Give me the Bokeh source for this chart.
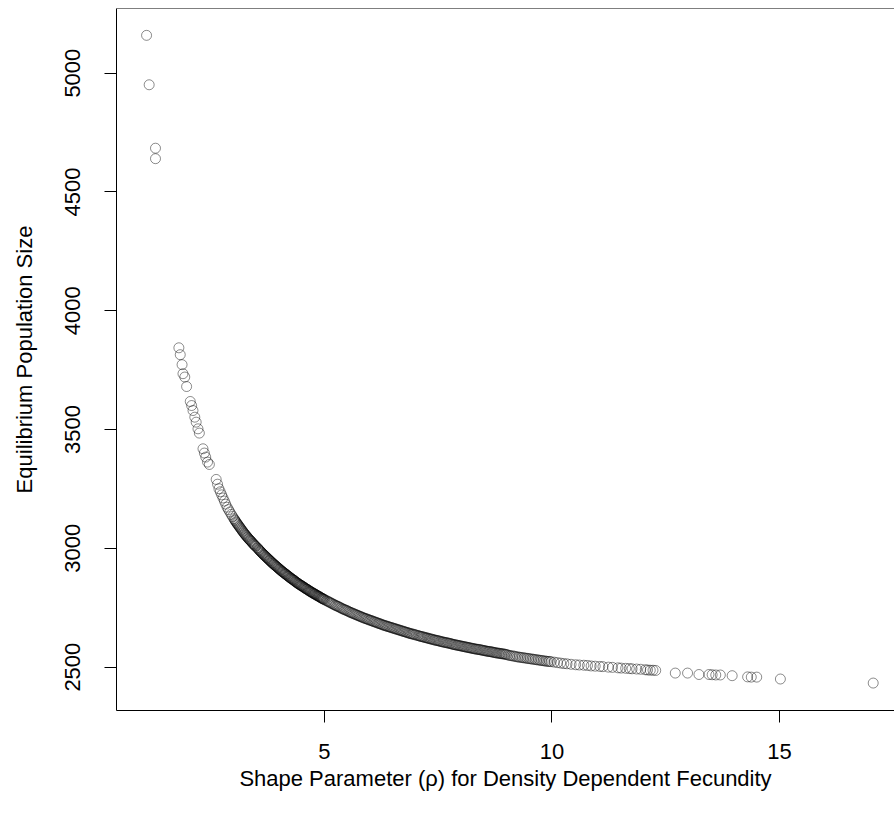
from bokeh.plotting import figure
from bokeh.models import FixedTicker, Range1d, Span, ColumnDataSource
from bokeh.embed import file_html
from bokeh.resources import INLINE

# ---- data ----
# isolated points at small rho
rho_low = [1.09, 1.147, 1.286, 1.286, 1.80, 1.83, 1.87, 1.89, 1.93, 1.97,
           2.05, 2.08, 2.11, 2.15, 2.18, 2.22, 2.25, 2.33, 2.36, 2.39, 2.43, 2.47]
pop_low = [5159, 4951, 4684, 4640, 3844, 3815, 3773, 3735, 3721, 3681,
           3618, 3601, 3580, 3552, 3531, 3503, 3485, 3419, 3401, 3384, 3363, 3353]

# steep part of the dense curve
rho_a = [2.62, 2.65, 2.68, 2.71, 2.74, 2.77, 2.80, 2.83, 2.86, 2.89, 2.92, 2.95, 2.98,
         3.01, 3.04, 3.07, 3.10, 3.13, 3.16, 3.19, 3.22, 3.25, 3.28, 3.31, 3.34, 3.37,
         3.40, 3.43, 3.46, 3.49,
         3.025, 3.055, 3.085, 3.115, 3.145, 3.175, 3.205, 3.235, 3.265, 3.295, 3.325,
         3.355, 3.385, 3.415, 3.445, 3.475]
pop_a = [3290, 3270, 3251, 3238, 3225, 3212, 3199, 3186, 3173, 3163, 3153, 3143, 3134,
         3125, 3116, 3107, 3099, 3091, 3083, 3075, 3067, 3060, 3053, 3046, 3039, 3033,
         3027, 3020, 3014, 3008,
         3120, 3111, 3103, 3095, 3087, 3079, 3071, 3063, 3056, 3049, 3042,
         3036, 3030, 3023, 3017, 3011]

rho_b = [3.52, 3.55, 3.58, 3.61, 3.64, 3.67, 3.70, 3.73, 3.76, 3.79, 3.82, 3.85, 3.88,
         3.91, 3.94, 3.97, 4.00, 4.03, 4.06, 4.09, 4.12, 4.15, 4.18, 4.21, 4.24, 4.27,
         4.30, 4.33, 4.36, 4.39, 4.42, 4.45, 4.48, 4.51, 4.54, 4.57, 4.60, 4.63, 4.66,
         4.69, 4.72, 4.75, 4.78, 4.81, 4.84, 4.87, 4.90, 4.93, 4.96, 4.99,
         3.535, 3.565, 3.595, 3.625, 3.655, 3.685, 3.715, 3.745, 3.775, 3.805, 3.835,
         3.865, 3.895, 3.925, 3.955, 3.985, 4.015, 4.045, 4.075, 4.105, 4.135, 4.165,
         4.195, 4.225, 4.255, 4.285, 4.315, 4.345, 4.375, 4.405, 4.435, 4.465, 4.495,
         4.525, 4.555, 4.585, 4.615, 4.645, 4.675, 4.705, 4.735, 4.765, 4.795, 4.825,
         4.855, 4.885, 4.915, 4.945, 4.975]
pop_b = [3003, 2996, 2990, 2984, 2978, 2972, 2967, 2961, 2956, 2950, 2945, 2939, 2934,
         2929, 2924, 2919, 2914, 2909, 2904, 2900, 2895, 2891, 2886, 2882, 2877, 2873,
         2869, 2865, 2860, 2856, 2852, 2848, 2844, 2841, 2837, 2833, 2829, 2826, 2822,
         2818, 2815, 2811, 2808, 2805, 2801, 2798, 2795, 2791, 2788, 2785,
         3000, 2993, 2987, 2981, 2975, 2970, 2964, 2959, 2953, 2948, 2942,
         2937, 2932, 2927, 2922, 2917, 2912, 2907, 2902, 2898, 2893, 2889,
         2884, 2880, 2875, 2871, 2867, 2863, 2858, 2854, 2850, 2846, 2843,
         2839, 2835, 2831, 2828, 2824, 2820, 2817, 2813, 2810, 2807, 2803,
         2800, 2797, 2793, 2790, 2787]

rho_c = [5.01, 5.04, 5.09, 5.14, 5.19, 5.24, 5.29, 5.34, 5.39, 5.44, 5.49, 5.54, 5.59, 5.64,
         5.69, 5.74, 5.79, 5.84, 5.89, 5.94, 5.99, 6.04, 6.09, 6.14, 6.19, 6.24, 6.29,
         6.34, 6.39, 6.44, 6.49, 6.54, 6.59, 6.64, 6.69, 6.74, 6.79, 6.84, 6.89, 6.94, 6.99,
         5.065, 5.115, 5.165, 5.215, 5.265, 5.315, 5.365, 5.415, 5.465, 5.515, 5.565,
         5.615, 5.665, 5.715, 5.765, 5.815, 5.865, 5.915, 5.965, 6.015, 6.065, 6.115,
         6.165, 6.215, 6.265, 6.315, 6.365, 6.415, 6.465, 6.515, 6.565, 6.615, 6.665,
         6.715, 6.765, 6.815, 6.865, 6.915, 6.965, 7.02]
pop_c = [2783, 2780, 2775, 2770, 2765, 2760, 2756, 2751, 2746, 2742, 2738, 2733, 2729, 2725,
         2721, 2717, 2713, 2709, 2705, 2702, 2698, 2695, 2691, 2688, 2684, 2681, 2677,
         2674, 2671, 2668, 2665, 2662, 2659, 2656, 2653, 2650, 2647, 2644, 2641, 2639, 2636,
         2778, 2773, 2768, 2763, 2758, 2754, 2749, 2744, 2740, 2736, 2731,
         2727, 2723, 2719, 2715, 2711, 2707, 2704, 2700, 2697, 2693, 2690,
         2686, 2683, 2679, 2676, 2673, 2670, 2667, 2664, 2661, 2658, 2655,
         2652, 2649, 2646, 2643, 2640, 2638, 2635]

rho_d = [7.05, 7.10, 7.15, 7.20, 7.25, 7.30, 7.35, 7.40, 7.45, 7.50, 7.55, 7.60, 7.65,
         7.70, 7.75, 7.80, 7.85, 7.90, 7.95, 8.00, 8.05, 8.10, 8.15, 8.20, 8.25, 8.30,
         8.35, 8.40, 8.45, 8.50, 8.55, 8.60, 8.65, 8.70, 8.75, 8.80, 8.85, 8.90, 8.95, 9.00,
         7.075, 7.125, 7.175, 7.225, 7.275, 7.325, 7.375, 7.425, 7.475, 7.525, 7.575,
         7.625, 7.675, 7.725, 7.775, 7.825, 7.875, 7.925, 7.975, 8.025, 8.075, 8.125,
         8.175, 8.225, 8.275, 8.325, 8.375, 8.425, 8.475, 8.525, 8.575, 8.625, 8.675,
         8.725, 8.775, 8.825, 8.875, 8.925, 8.975]
pop_d = [2633, 2630, 2628, 2625, 2623, 2620, 2618, 2615, 2613, 2611, 2608, 2606, 2604,
         2602, 2600, 2597, 2595, 2593, 2591, 2589, 2587, 2585, 2583, 2581, 2579, 2577,
         2575, 2574, 2572, 2570, 2568, 2566, 2565, 2563, 2561, 2559, 2558, 2556, 2555, 2553,
         2632, 2629, 2627, 2624, 2622, 2619, 2617, 2614, 2612, 2610, 2607,
         2605, 2603, 2601, 2599, 2596, 2594, 2592, 2590, 2588, 2586, 2584,
         2582, 2580, 2578, 2576, 2575, 2573, 2571, 2569, 2567, 2566, 2564,
         2562, 2560, 2559, 2557, 2556, 2554]

rho_e = [9.07, 9.14, 9.21, 9.28, 9.35, 9.42, 9.49, 9.56, 9.63, 9.70, 9.77, 9.84, 9.91,
         9.98, 10.05, 10.12, 10.19, 10.26, 10.33,
         9.035, 9.105, 9.175, 9.245, 9.315, 9.385, 9.455, 9.525, 9.595, 9.665, 9.735,
         9.805, 9.875, 9.945]
pop_e = [2549, 2547, 2544, 2542, 2540, 2538, 2536, 2534, 2532, 2530, 2528, 2526, 2524,
         2523, 2521, 2519, 2517, 2515, 2514,
         2551, 2548, 2546, 2543, 2541, 2539, 2537, 2535, 2533, 2531, 2529,
         2527, 2525, 2524]

rho_f = [10.42, 10.52, 10.60, 10.70, 10.78, 10.86, 10.95, 11.05, 11.12, 11.24, 11.33,
         11.45, 11.52, 11.62, 11.70, 11.76, 11.86, 11.95, 12.05, 12.10, 12.16, 12.22, 12.28]
pop_f = [2512, 2510, 2509, 2508, 2507, 2505, 2504, 2503, 2502, 2500, 2499,
         2497, 2496, 2495, 2494, 2493, 2492, 2491, 2489, 2488, 2487, 2487, 2486]

# sparse tail
rho_tail = [12.71, 12.98, 13.23, 13.45, 13.52, 13.60, 13.70, 13.96, 14.30, 14.38, 14.50, 15.02, 17.06]
pop_tail = [2475, 2475, 2469, 2469, 2468, 2467, 2467, 2464, 2459, 2458, 2458, 2450, 2433]

x_ticks = [5, 10, 15]
y_ticks = [2500, 3000, 3500, 4000, 4500, 5000]

rho = rho_low + rho_a + rho_b + rho_c + rho_d + rho_e + rho_f + rho_tail
pop = pop_low + pop_a + pop_b + pop_c + pop_d + pop_e + pop_f + pop_tail
n = min(len(rho), len(pop))
rho, pop = rho[:n], pop[:n]

FONT = "Liberation Sans"
FS = "22px"
Y_TOP = 5272

p = figure(width=894, height=820, output_backend="svg", toolbar_location=None,
           x_range=Range1d(0.429, 17.528), y_range=Range1d(2317.5, Y_TOP),
           min_border_left=116, min_border_right=0, min_border_top=8,
           min_border_bottom=110,
           x_axis_label="Shape Parameter (\u03c1) for Density Dependent Fecundity",
           y_axis_label="Equilibrium Population Size")

p.outline_line_color = None
p.background_fill_color = "white"
p.border_fill_color = "white"
p.grid.visible = False

src = ColumnDataSource(data=dict(x=rho, y=pop))
p.scatter("x", "y", source=src, marker="circle", size=10, fill_color=None,
          line_color="black", line_alpha=0.45, line_width=1)

top = Span(location=Y_TOP, dimension="width", line_color="black", line_width=1)
p.add_layout(top)

for ax in (p.xaxis[0], p.yaxis[0]):
    ax.axis_line_color = "black"
    ax.axis_line_width = 1
    ax.major_tick_line_color = "black"
    ax.major_tick_out = 12
    ax.major_tick_in = 0
    ax.minor_tick_line_color = None
    ax.major_label_text_font = FONT
    ax.major_label_text_font_size = FS
    ax.major_label_text_color = "black"
    ax.axis_label_text_font = FONT
    ax.axis_label_text_font_size = FS
    ax.axis_label_text_font_style = "normal"
    ax.axis_label_text_color = "black"

p.xaxis[0].ticker = FixedTicker(ticks=x_ticks)
p.yaxis[0].ticker = FixedTicker(ticks=y_ticks)
p.xaxis[0].major_label_standoff = 21
p.xaxis[0].axis_label_standoff = 4
p.yaxis[0].major_label_orientation = "vertical"
p.yaxis[0].major_label_standoff = 24
p.yaxis[0].axis_label_standoff = 26

open("out.html", "w").write(file_html(p, INLINE))
